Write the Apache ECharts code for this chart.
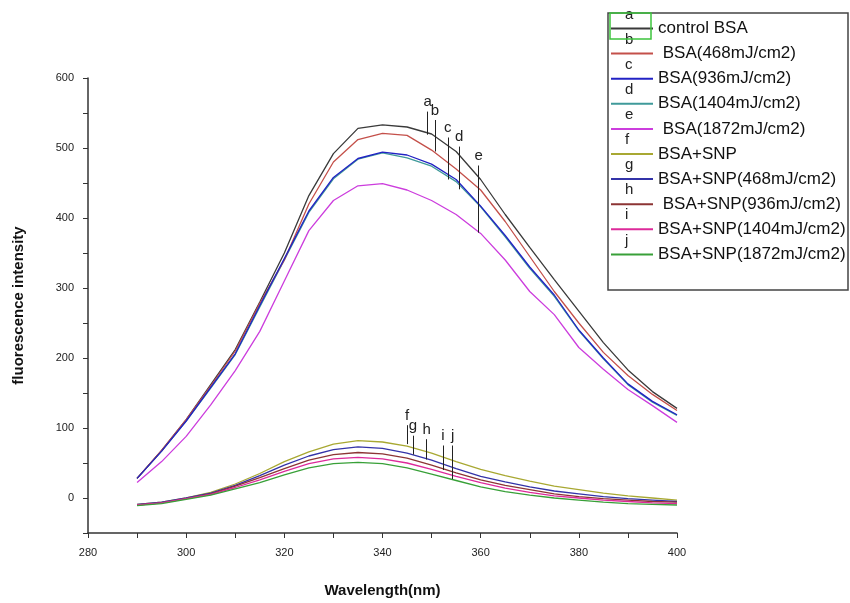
<!DOCTYPE html>
<html>
<head>
<meta charset="utf-8">
<script src="https://cdn.jsdelivr.net/npm/echarts@6/dist/echarts.min.js"></script>
<style>
  html, body { margin: 0; padding: 0; background: #fff; }
  #main { width: 850px; height: 603px; }
</style>
</head>
<body>
<div id="main"></div>
<script>
// wavelength (nm)
var wavelengths = [290, 295, 300, 305, 310, 315, 320, 325, 330, 335, 340, 345,
                   350, 355, 360, 365, 370, 375, 380, 385, 390, 395, 400];

var names = ['control BSA', ' BSA(468mJ/cm2)', 'BSA(936mJ/cm2)', 'BSA(1404mJ/cm2)',
             ' BSA(1872mJ/cm2)', 'BSA+SNP', 'BSA+SNP(468mJ/cm2)', ' BSA+SNP(936mJ/cm2)',
             'BSA+SNP(1404mJ/cm2)', 'BSA+SNP(1872mJ/cm2)'];
var letters = ['a', 'b', 'c', 'd', 'e', 'f', 'g', 'h', 'i', 'j'];
var colors = ['#3a3a3a', '#c4504a', '#2222c4', '#3f9a9a', '#cc3ddd',
              '#a8a832', '#3333a8', '#8c3434', '#dd2a9a', '#38a038'];

var seriesA = [28, 68, 112, 162, 212, 280, 350, 432, 492, 528, 533, 530, 520, 495, 455, 405, 358, 312, 267, 222, 183, 152, 128];
var seriesB = [28, 68, 112, 160, 210, 278, 340, 420, 480, 512, 521, 518, 497, 470, 440, 395, 345, 295, 250, 208, 175, 148, 125];
var seriesC = [28, 67, 110, 158, 206, 275, 342, 410, 458, 485, 494, 490, 477, 455, 417, 375, 330, 290, 240, 200, 163, 138, 119];
var seriesD = [28, 67, 110, 157, 205, 273, 340, 408, 456, 484, 493, 486, 474, 452, 416, 373, 328, 288, 239, 199, 162, 137, 118];
var seriesE = [22, 52, 88, 133, 182, 238, 310, 382, 425, 446, 449, 440, 425, 405, 378, 340, 295, 262, 215, 184, 155, 132, 108];
var seriesF = [-9, -6, 0, 8, 20, 35, 52, 66, 77, 82, 80, 74, 64, 52, 41, 32, 24, 17, 12, 7, 3, 0, -3];
var seriesG = [-9, -6, 0, 7, 18, 32, 47, 60, 69, 73, 71, 64, 54, 42, 31, 23, 16, 10, 6, 2, -1, -3, -5];
var seriesH = [-10, -7, -1, 6, 17, 29, 42, 54, 62, 65, 63, 57, 47, 36, 26, 18, 12, 6, 2, -1, -3, -5, -6];
var seriesI = [-10, -7, -1, 5, 15, 26, 38, 49, 56, 58, 56, 50, 41, 31, 22, 14, 8, 3, 0, -3, -5, -7, -8];
var seriesJ = [-11, -8, -2, 4, 13, 22, 33, 43, 49, 51, 49, 43, 34, 25, 16, 9, 4, 0, -3, -6, -8, -9, -10];
var allSeries = [seriesA, seriesB, seriesC, seriesD, seriesE, seriesF, seriesG, seriesH, seriesI, seriesJ];

// letter pointer lines: [wavelength, top value, bottom value]
var pointers = [
  [349.2, 552, 519], [350.7, 540, 495], [353.3, 515, 455], [355.6, 502, 441], [359.6, 475, 379],
  [345.0, 104, 77], [346.2, 89, 62], [349.0, 84, 55], [352.3, 75, 40], [354.3, 75, 27]
];

var series = allSeries.map(function (vals, k) {
  return {
    name: names[k],
    type: 'line',
    symbol: 'none',
    z: k === 3 ? 1 : 2,
    data: wavelengths.map(function (w, n) { return [w, vals[n]]; }),
    lineStyle: { color: colors[k], width: 1.3 },
    itemStyle: { color: colors[k] },
    markLine: {
      silent: true,
      symbol: ['none', 'none'],
      lineStyle: { color: '#222', width: 1, type: 'solid' },
      label: {
        show: true, position: 'start', formatter: letters[k],
        color: '#222', fontSize: 15, fontFamily: 'Liberation Sans', distance: 2
      },
      data: [[{ coord: [pointers[k][0], pointers[k][1]] }, { coord: [pointers[k][0], pointers[k][2]] }]]
    }
  };
});

var chart = echarts.init(document.getElementById('main'));

var legendLetters = letters.map(function (l, k) {
  return {
    type: 'text', left: 625, top: 7 + k * 25.1,
    style: { text: l, fontSize: 15, fontFamily: 'Liberation Sans', fill: '#222' }
  };
});

chart.setOption({
  animation: false,
  backgroundColor: '#fff',
  grid: { left: 88, right: 173, top: 78, bottom: 66 },
  xAxis: {
    type: 'value', min: 280, max: 400, interval: 10,
    name: 'Wavelength(nm)', nameLocation: 'middle', nameGap: 50,
    nameTextStyle: { fontSize: 15, fontWeight: 'bold', fontFamily: 'Liberation Sans', color: '#111' },
    axisLine: { onZero: false, lineStyle: { color: '#333', width: 1.5 } },
    axisTick: { length: 5, lineStyle: { color: '#333' } },
    axisLabel: {
      fontSize: 11, color: '#222', fontFamily: 'Liberation Sans', margin: 14,
      formatter: function (v) { return v % 20 === 0 ? v : ''; }
    },
    splitLine: { show: false }
  },
  yAxis: {
    type: 'value', min: -50, max: 600, interval: 50,
    name: 'fluorescence intensity', nameLocation: 'middle', nameGap: 62,
    nameTextStyle: { fontSize: 15, fontWeight: 'bold', fontFamily: 'Liberation Sans', color: '#111' },
    axisLine: { show: true, onZero: false, lineStyle: { color: '#333', width: 1.5 } },
    axisTick: { show: true, length: 5, lineStyle: { color: '#333' } },
    axisLabel: {
      fontSize: 11, color: '#222', fontFamily: 'Liberation Sans', margin: 14,
      formatter: function (v) { return v % 100 === 0 ? v : ''; }
    },
    splitLine: { show: false }
  },
  legend: {
    orient: 'vertical', left: 605, top: 15,
    itemWidth: 42, itemHeight: 14, itemGap: 8.1,
    padding: [5, 5],
    itemStyle: { opacity: 0 },
    textStyle: { fontSize: 17, fontFamily: 'Liberation Sans', color: '#111' },
    data: names
  },
  graphic: [
    { type: 'rect', shape: { x: 608, y: 13, width: 240, height: 277 },
      style: { fill: 'none', stroke: '#444', lineWidth: 1.5 }, z: 0 },
    { type: 'rect', shape: { x: 610, y: 13, width: 41, height: 26 },
      style: { fill: 'none', stroke: '#3cc43c', lineWidth: 1.5 }, z: 10 }
  ].concat(legendLetters),
  series: series
});
</script>
</body>
</html>
